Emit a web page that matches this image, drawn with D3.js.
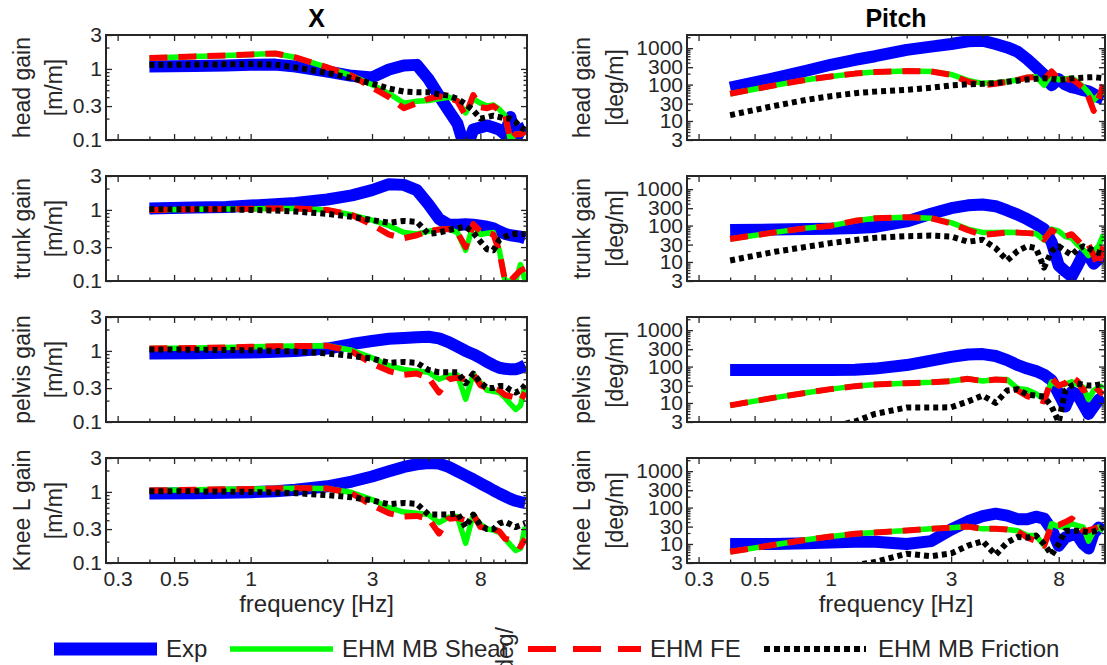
<!DOCTYPE html>
<html>
<head>
<meta charset="utf-8">
<script src="https://cdn.jsdelivr.net/npm/d3@7"></script>
<style>
  body { margin: 0; background: #fff; }
  text { font-family: "Liberation Sans", Arial, sans-serif; fill: #262626; }
</style>
</head>
<body>
<svg id="chart"></svg>
<script>
// frequency grid [Hz] shared by all curves
var freq = [0.4, 0.6, 0.8, 1.0, 1.25, 1.5, 2.0, 2.5, 3.0, 3.5, 4.0, 4.5, 5.0, 5.5, 6.0, 6.5, 7.0, 7.5, 8.0, 8.5, 9.0, 9.5, 10, 10.5, 11, 11.5, 12];

// X direction gains [m/m]
var headX_exp      = [1.08, 1.10, 1.12, 1.14, 1.15, 1.08, 0.92, 0.80, 0.76, 0.98, 1.12, 1.14, 0.72, 0.42, 0.26, 0.17, 0.07, 0.14, 0.15, 0.16, 0.15, 0.14, 0.12, 0.21, 0.10, 0.14, 0.15];
var headX_shear    = [1.42, 1.50, 1.55, 1.60, 1.65, 1.45, 1.05, 0.80, 0.60, 0.45, 0.33, 0.35, 0.36, 0.38, 0.40, 0.36, 0.24, 0.38, 0.33, 0.30, 0.31, 0.27, 0.22, 0.10, 0.12, 0.12, 0.13];
var headX_fe       = [1.42, 1.50, 1.55, 1.60, 1.65, 1.45, 1.05, 0.80, 0.55, 0.40, 0.28, 0.33, 0.38, 0.41, 0.40, 0.35, 0.22, 0.43, 0.29, 0.28, 0.30, 0.26, 0.23, 0.10, 0.12, 0.12, 0.13];
var headX_friction = [1.14, 1.15, 1.16, 1.17, 1.15, 1.05, 0.88, 0.74, 0.62, 0.53, 0.48, 0.47, 0.47, 0.44, 0.42, 0.38, 0.32, 0.26, 0.20, 0.21, 0.22, 0.21, 0.20, 0.20, 0.18, 0.15, 0.14];

var trunkX_exp      = [1.05, 1.08, 1.10, 1.15, 1.20, 1.25, 1.40, 1.60, 1.90, 2.30, 2.25, 1.90, 1.20, 0.75, 0.62, 0.62, 0.63, 0.62, 0.60, 0.58, 0.55, 0.50, 0.46, 0.44, 0.43, 0.42, 0.40];
var trunkX_shear    = [1.00, 1.02, 1.03, 1.04, 1.05, 1.05, 1.00, 0.85, 0.72, 0.60, 0.48, 0.46, 0.50, 0.53, 0.54, 0.48, 0.27, 0.62, 0.45, 0.47, 0.48, 0.27, 0.10, 0.10, 0.10, 0.17, 0.10];
var trunkX_fe       = [1.00, 1.02, 1.03, 1.04, 1.05, 1.05, 1.00, 0.85, 0.62, 0.45, 0.40, 0.44, 0.50, 0.53, 0.54, 0.48, 0.30, 0.63, 0.50, 0.48, 0.45, 0.26, 0.10, 0.10, 0.12, 0.14, 0.15];
var trunkX_friction = [1.02, 1.02, 1.02, 1.00, 0.98, 0.95, 0.88, 0.80, 0.72, 0.66, 0.70, 0.68, 0.46, 0.48, 0.52, 0.55, 0.58, 0.48, 0.36, 0.28, 0.27, 0.38, 0.42, 0.45, 0.46, 0.46, 0.46];

var pelvisX_exp      = [0.92, 0.93, 0.94, 0.95, 0.97, 1.00, 1.08, 1.25, 1.38, 1.48, 1.52, 1.56, 1.58, 1.50, 1.33, 1.15, 1.00, 0.90, 0.80, 0.70, 0.63, 0.58, 0.56, 0.55, 0.55, 0.58, 0.63];
var pelvisX_shear    = [1.08, 1.10, 1.12, 1.14, 1.16, 1.17, 1.18, 1.02, 0.80, 0.62, 0.55, 0.52, 0.50, 0.40, 0.45, 0.46, 0.21, 0.47, 0.36, 0.28, 0.27, 0.26, 0.22, 0.18, 0.15, 0.17, 0.33];
var pelvisX_fe       = [1.08, 1.10, 1.12, 1.14, 1.16, 1.17, 1.18, 0.98, 0.66, 0.52, 0.46, 0.48, 0.42, 0.26, 0.40, 0.42, 0.40, 0.47, 0.33, 0.30, 0.30, 0.28, 0.24, 0.23, 0.22, 0.20, 0.26];
var pelvisX_friction = [1.05, 1.04, 1.03, 1.02, 1.00, 0.98, 0.92, 0.85, 0.78, 0.68, 0.70, 0.68, 0.54, 0.50, 0.50, 0.50, 0.35, 0.48, 0.36, 0.30, 0.30, 0.32, 0.32, 0.28, 0.26, 0.28, 0.33];

var kneeX_exp      = [0.95, 0.96, 0.97, 0.99, 1.02, 1.07, 1.20, 1.40, 1.65, 1.95, 2.25, 2.45, 2.55, 2.50, 2.25, 1.95, 1.70, 1.50, 1.32, 1.18, 1.05, 0.95, 0.87, 0.80, 0.75, 0.72, 0.70];
var kneeX_shear    = [1.05, 1.07, 1.09, 1.10, 1.12, 1.13, 1.12, 0.98, 0.78, 0.60, 0.52, 0.50, 0.48, 0.37, 0.44, 0.45, 0.19, 0.48, 0.35, 0.30, 0.29, 0.27, 0.22, 0.18, 0.15, 0.16, 0.32];
var kneeX_fe       = [1.05, 1.07, 1.09, 1.10, 1.12, 1.13, 1.12, 0.95, 0.65, 0.50, 0.45, 0.46, 0.42, 0.26, 0.42, 0.43, 0.40, 0.48, 0.32, 0.31, 0.30, 0.28, 0.22, 0.21, 0.19, 0.17, 0.22];
var kneeX_friction = [1.02, 1.02, 1.01, 1.00, 0.98, 0.96, 0.90, 0.84, 0.76, 0.67, 0.70, 0.68, 0.48, 0.48, 0.48, 0.50, 0.32, 0.48, 0.34, 0.30, 0.30, 0.36, 0.38, 0.35, 0.32, 0.34, 0.36];

// Pitch gains [deg/m]
var headP_exp      = [82, 150, 240, 350, 480, 600, 900, 1100, 1300, 1550, 1600, 1300, 1050, 800, 500, 300, 185, 96, 140, 100, 85, 78, 70, 65, 55, 45, 40];
var headP_shear    = [56, 95, 135, 167, 200, 220, 235, 230, 190, 130, 108, 112, 120, 135, 156, 165, 96, 186, 135, 145, 150, 120, 87, 60, 37, 50, 63];
var headP_fe       = [56, 95, 135, 167, 200, 220, 235, 230, 185, 120, 96, 105, 118, 135, 156, 160, 140, 230, 140, 135, 140, 110, 80, 45, 19, 40, 100];
var headP_friction = [14.5, 26, 38, 48, 58, 64, 72, 82, 95, 102, 105, 110, 120, 128, 138, 145, 150, 145, 135, 140, 148, 152, 155, 158, 160, 155, 150];

var trunkP_exp      = [75, 78, 80, 82, 86, 92, 130, 210, 300, 360, 380, 340, 260, 200, 150, 110, 80, 35, 8, 5.5, 4, 8, 16, 15, 9, 12, 14];
var trunkP_shear    = [43, 65, 85, 98, 135, 158, 170, 160, 120, 80, 65, 64, 66, 64, 62, 60, 40, 80, 70, 50, 45, 30, 22, 15, 20, 27, 55];
var trunkP_fe       = [43, 65, 85, 98, 135, 158, 170, 160, 115, 75, 55, 60, 65, 64, 62, 60, 42, 75, 58, 50, 58, 40, 27, 30, 15, 7.5, 27];
var trunkP_friction = [11, 19, 26, 33, 40, 46, 51, 53, 50, 36, 41, 24, 11, 20, 27, 24, 7, 20, 27, 20, 15.5, 22, 27, 24, 20, 18, 17];

var pelvisP_exp      = [80, 80, 80, 80, 82, 88, 110, 145, 185, 215, 220, 195, 150, 110, 88, 75, 60, 42, 18, 8, 20, 17, 9, 5, 8, 12, 15];
var pelvisP_shear    = [8.6, 14, 19, 24, 29, 32, 35, 37, 40, 46, 40, 44, 44, 25, 23, 18, 12.6, 38, 30, 33, 38, 32, 27, 12.6, 22, 26, 30];
var pelvisP_fe       = [8.6, 14, 19, 24, 29, 32, 35, 37, 40, 46, 40, 44, 42, 22, 15.5, 13, 11, 47, 30, 35, 53, 40, 22, 25, 30, 22, 17];
var pelvisP_friction = [0.8, 1.2, 1.7, 2.2, 3.1, 5, 7.5, 7.5, 7.6, 11, 16, 10, 22, 24, 17, 16, 15, 8, 3, 22, 30, 34, 32, 30, 30, 32, 34];

var kneeP_exp      = [10, 10, 10.5, 11, 11.5, 11.5, 10, 12, 25, 42, 58, 68, 60, 48, 48, 56, 50, 25, 9, 15, 18, 17, 10, 7.5, 20, 28, 23];
var kneeP_shear    = [6.1, 9.5, 13, 16, 19, 20.5, 23.6, 26, 28, 30, 26, 26, 25, 23, 17, 17, 9, 36, 30, 29, 36, 32, 29, 12, 22, 29, 23];
var kneeP_fe       = [6.1, 9.5, 13, 16, 19, 20.5, 23.6, 26, 28, 30, 26, 26, 25, 22, 15, 12, 9, 33, 33, 40, 50, 36, 23, 24, 26, 30, 36];
var kneeP_friction = [0.5, 0.9, 1.4, 2, 2.6, 3.2, 5.4, 4.6, 5.5, 9, 12, 5, 11, 15.6, 15, 17, 10, 5, 10, 23, 23, 23, 22, 21, 22, 25, 29];

// tick labels
var xTicks = [0.3, 0.5, 1, 3, 8];
var yTicksX = [0.1, 0.3, 1, 3];
var yTicksP = [3, 10, 30, 100, 300, 1000];

var rowNames = ["head gain", "trunk gain", "pelvis gain", "Knee L gain"];
var seriesNames = ["Exp", "EHM MB Shear", "EHM FE", "EHM MB Friction"];

var panelData = [
  [[headX_exp, headX_shear, headX_fe, headX_friction],
   [trunkX_exp, trunkX_shear, trunkX_fe, trunkX_friction],
   [pelvisX_exp, pelvisX_shear, pelvisX_fe, pelvisX_friction],
   [kneeX_exp, kneeX_shear, kneeX_fe, kneeX_friction]],
  [[headP_exp, headP_shear, headP_fe, headP_friction],
   [trunkP_exp, trunkP_shear, trunkP_fe, trunkP_friction],
   [pelvisP_exp, pelvisP_shear, pelvisP_fe, pelvisP_friction],
   [kneeP_exp, kneeP_shear, kneeP_fe, kneeP_friction]]
];

var styles = [
  {color: "#0000ff", width: 12, dash: null, legDash: null},
  {color: "#00ff00", width: 5.5, dash: null, legDash: null},
  {color: "#ff0000", width: 6, dash: "18,11", legDash: "28,17"},
  {color: "#000000", width: 6, dash: "5,4", legDash: "6,4"}
];

var svgWidth = 1107, svgHeight = 665;
var svg = d3.select("#chart").attr("width", svgWidth).attr("height", svgHeight);

var cols = [
  {x0: 106, x1: 527, title: "X", unit: "[m/m]", domain: [0.1, 3], ticks: yTicksX, lab1: 29.5, lab2: 61.5},
  {x0: 687, x1: 1105, title: "Pitch", unit: "[deg/m]", domain: [3, 2300], ticks: yTicksP, lab1: 590, lab2: 623}
];
var rowTops = [35, 176, 317, 458], rowH = 105;
var xDomain = [0.27, 12.2];

function minorTicks(domain, majors) {
  var out = [];
  for (var e = Math.floor(Math.log10(domain[0])); e <= Math.ceil(Math.log10(domain[1])); e++) {
    for (var k = 1; k <= 9; k++) {
      var v = +(k * Math.pow(10, e)).toPrecision(3);
      if (v >= domain[0] && v <= domain[1] && majors.indexOf(v) < 0) out.push(v);
    }
  }
  return out;
}

var line = d3.line().curve(d3.curveLinear);

cols.forEach(function(col, ci) {
  var x = d3.scaleLog().domain(xDomain).range([col.x0, col.x1]);
  var xMinor = minorTicks(xDomain, xTicks);
  var yMinor = minorTicks(col.domain, col.ticks);

  svg.append("text")
    .attr("x", (col.x0 + col.x1) / 2).attr("y", 27)
    .attr("text-anchor", "middle")
    .style("font-size", "25px").style("font-weight", "bold")
    .style("fill", "#000")
    .text(col.title);

  rowTops.forEach(function(top, ri) {
    var bottom = top + rowH;
    var y = d3.scaleLog().domain(col.domain).range([bottom, top]);
    var g = svg.append("g");
    var clipId = "clip" + ci + ri;
    g.append("clipPath").attr("id", clipId)
      .append("rect").attr("x", col.x0).attr("y", top)
      .attr("width", col.x1 - col.x0).attr("height", rowH);

    // curves
    var lines = g.append("g").attr("clip-path", "url(#" + clipId + ")");
    panelData[ci][ri].forEach(function(vals, si) {
      var st = styles[si];
      var pts = freq.map(function(f, i) { return [x(f), y(vals[i])]; });
      lines.append("path")
        .attr("d", line(pts))
        .attr("fill", "none")
        .attr("stroke", st.color)
        .attr("stroke-width", st.width)
        .attr("stroke-linejoin", "round")
        .attr("stroke-linecap", "butt")
        .attr("stroke-dasharray", st.dash);
    });

    // ticks (inward, all four sides)
    var showX = ri === 3;
    g.append("g").attr("transform", "translate(0," + bottom + ")")
      .call(d3.axisBottom(x).tickValues(xTicks).tickSizeInner(-6).tickSizeOuter(0).tickPadding(8)
        .tickFormat(function(d) { return showX ? String(d) : ""; }));
    g.append("g").attr("transform", "translate(0," + bottom + ")")
      .call(d3.axisBottom(x).tickValues(xMinor).tickSizeInner(-3.5).tickSizeOuter(0).tickFormat(""));
    g.append("g").attr("transform", "translate(0," + top + ")")
      .call(d3.axisTop(x).tickValues(xTicks).tickSizeInner(-6).tickSizeOuter(0).tickFormat(""));
    g.append("g").attr("transform", "translate(0," + top + ")")
      .call(d3.axisTop(x).tickValues(xMinor).tickSizeInner(-3.5).tickSizeOuter(0).tickFormat(""));
    g.append("g").attr("transform", "translate(" + col.x0 + ",0)")
      .call(d3.axisLeft(y).tickValues(col.ticks).tickSizeInner(-6).tickSizeOuter(0).tickPadding(4)
        .tickFormat(function(d) { return String(d); }));
    g.append("g").attr("transform", "translate(" + col.x0 + ",0)")
      .call(d3.axisLeft(y).tickValues(yMinor).tickSizeInner(-3.5).tickSizeOuter(0).tickFormat(""));
    g.append("g").attr("transform", "translate(" + col.x1 + ",0)")
      .call(d3.axisRight(y).tickValues(col.ticks).tickSizeInner(-6).tickSizeOuter(0).tickFormat(""));
    g.append("g").attr("transform", "translate(" + col.x1 + ",0)")
      .call(d3.axisRight(y).tickValues(yMinor).tickSizeInner(-3.5).tickSizeOuter(0).tickFormat(""));

    g.selectAll(".domain").remove();
    g.selectAll(".tick line").attr("stroke", "#262626").attr("stroke-width", 1.3);
    g.selectAll(".tick text")
      .style("font-size", "21px").style("font-family", "'Liberation Sans', Arial, sans-serif")
      .attr("fill", "#262626");

    g.append("rect")
      .attr("x", col.x0).attr("y", top)
      .attr("width", col.x1 - col.x0).attr("height", rowH)
      .attr("fill", "none").attr("stroke", "#262626").attr("stroke-width", 2);

    // y label, two lines
    var cy = top + rowH / 2;
    [[rowNames[ri], col.lab1], [col.unit, col.lab2]].forEach(function(p) {
      svg.append("text")
        .attr("transform", "translate(" + p[1] + "," + cy + ") rotate(-90)")
        .attr("text-anchor", "middle")
        .style("font-size", "23px")
        .text(p[0]);
    });
  });

  svg.append("text")
    .attr("x", (col.x0 + col.x1) / 2).attr("y", 612)
    .attr("text-anchor", "middle")
    .style("font-size", "24px")
    .text("frequency [Hz]");
});

// stray clipped label fragment visible in the original figure
svg.append("text")
  .attr("transform", "translate(513,627) rotate(-90)")
  .attr("text-anchor", "end")
  .style("font-size", "23px")
  .text("[deg/");

// legend
var legendItems = [
  {x0: 54, x1: 157, tx: 166},
  {x0: 230, x1: 333, tx: 342},
  {x0: 528, x1: 641, tx: 650},
  {x0: 764, x1: 866, tx: 878}
];
var legend = svg.append("g");
legendItems.forEach(function(it, i) {
  var st = styles[i];
  legend.append("line")
    .attr("x1", it.x0).attr("x2", it.x1).attr("y1", 649).attr("y2", 649)
    .attr("stroke", st.color)
    .attr("stroke-width", i === 0 ? 13 : st.width)
    .attr("stroke-dasharray", st.legDash);
  legend.append("text")
    .attr("x", it.tx).attr("y", 657)
    .style("font-size", "24px")
    .text(seriesNames[i]);
});
</script>
</body>
</html>
